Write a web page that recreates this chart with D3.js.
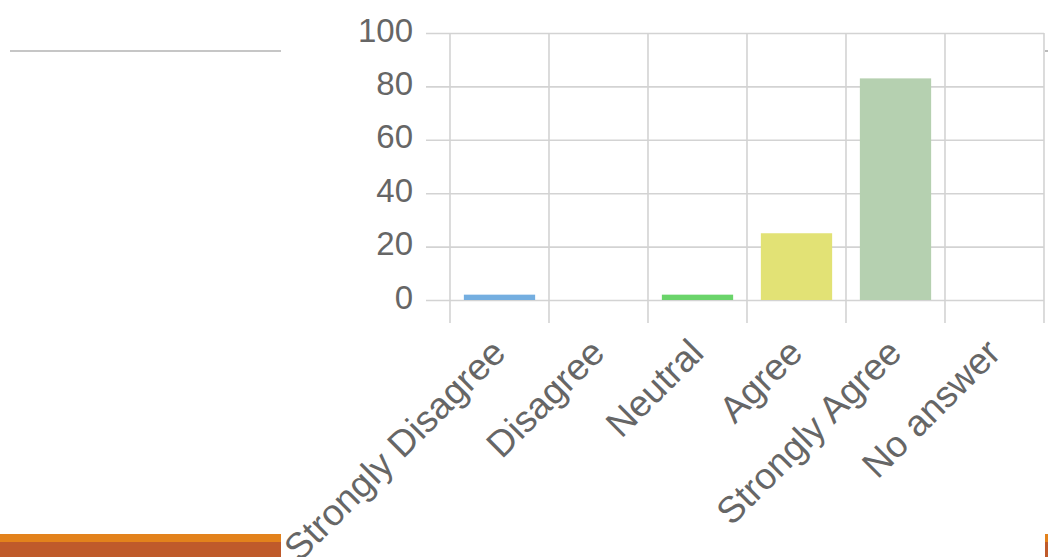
<!DOCTYPE html>
<html>
<head>
<meta charset="utf-8">
<script src="https://cdnjs.cloudflare.com/ajax/libs/d3/7.8.5/d3.min.js"></script>
<style>
  html, body { margin: 0; padding: 0; background: #fff; }
  svg { display: block; }
  text { font-family: "Liberation Sans", Arial, Helvetica, sans-serif; }
</style>
</head>
<body>
<svg id="chart" width="1048" height="557"></svg>
<script>
const categories = ["Strongly Disagree", "Disagree", "Neutral", "Agree", "Strongly Agree", "No answer"];
const values = [2, 0, 2, 25, 83, 0];
const barColors = ["#74aee0", "#e8a0a0", "#6ad46a", "#e2e275", "#b5d0b0", "#c0c0c0"];
const yTicks = [0, 20, 40, 60, 80, 100];

(function () {
const svg = d3.select("#chart");

// decorative slide elements
svg.append("line").attr("x1", 10).attr("x2", 281).attr("y1", 51).attr("y2", 51)
  .attr("stroke", "#8e8e8e").attr("stroke-width", 1.2);
svg.append("line").attr("x1", 1045).attr("x2", 1048).attr("y1", 51).attr("y2", 51)
  .attr("stroke", "#8e8e8e").attr("stroke-width", 1.2);
svg.append("rect").attr("x", 0).attr("y", 534).attr("width", 281).attr("height", 8).attr("fill", "#e3821c");
svg.append("rect").attr("x", 0).attr("y", 542).attr("width", 281).attr("height", 15).attr("fill", "#bf5a2b");
svg.append("rect").attr("x", 1045).attr("y", 534).attr("width", 3).attr("height", 8).attr("fill", "#e3821c");
svg.append("rect").attr("x", 1045).attr("y", 542).attr("width", 3).attr("height", 15).attr("fill", "#bf5a2b");

const pLeft = 450, pRight = 1044, pTop = 33, pBottom = 300, tickLeft = 426;

const x = d3.scaleBand().domain(categories).range([pLeft, pRight]).padding(0);
const y = d3.scaleLinear().domain([0, 100]).range([pBottom, pTop]);

const grid = "#d3d3d3";

// horizontal gridlines + y labels
const yAxis = svg.append("g")
  .attr("transform", `translate(${tickLeft},0)`)
  .call(d3.axisLeft(y).tickValues(yTicks).tickSize(-(pRight - tickLeft)).tickPadding(13));
yAxis.select(".domain").remove();
yAxis.selectAll(".tick line").attr("stroke", grid).attr("stroke-width", 1.6);
yAxis.selectAll(".tick text")
  .attr("fill", "#666").attr("font-size", 33).attr("dy", "0.32em").attr("y", -2.5);

// vertical gridlines at band edges
const edges = categories.map(c => x(c)).concat([x.range()[1]]);
svg.append("g").selectAll("line").data(edges).join("line")
  .attr("x1", d => d).attr("x2", d => d)
  .attr("y1", pTop).attr("y2", 323)
  .attr("stroke", grid).attr("stroke-width", 1.6);

// bars
const bw = x.bandwidth() * 0.72;
svg.append("g").selectAll("rect").data(values).join("rect")
  .attr("x", (d, i) => x(categories[i]) + (x.bandwidth() - bw) / 2)
  .attr("width", bw)
  .attr("y", d => y(d))
  .attr("height", d => y(0) - y(d))
  .attr("fill", (d, i) => barColors[i]);

// x labels
const xAxis = svg.append("g")
  .attr("transform", `translate(0,${pBottom})`)
  .call(d3.axisBottom(x).tickSize(0));
xAxis.select(".domain").remove();
xAxis.selectAll(".tick text")
  .attr("fill", "#666").attr("font-size", 37)
  .attr("text-anchor", "end")
  .attr("dy", 0).attr("y", 0)
  .attr("transform", "translate(8,55) rotate(-45)");
})();
</script>
</body>
</html>
